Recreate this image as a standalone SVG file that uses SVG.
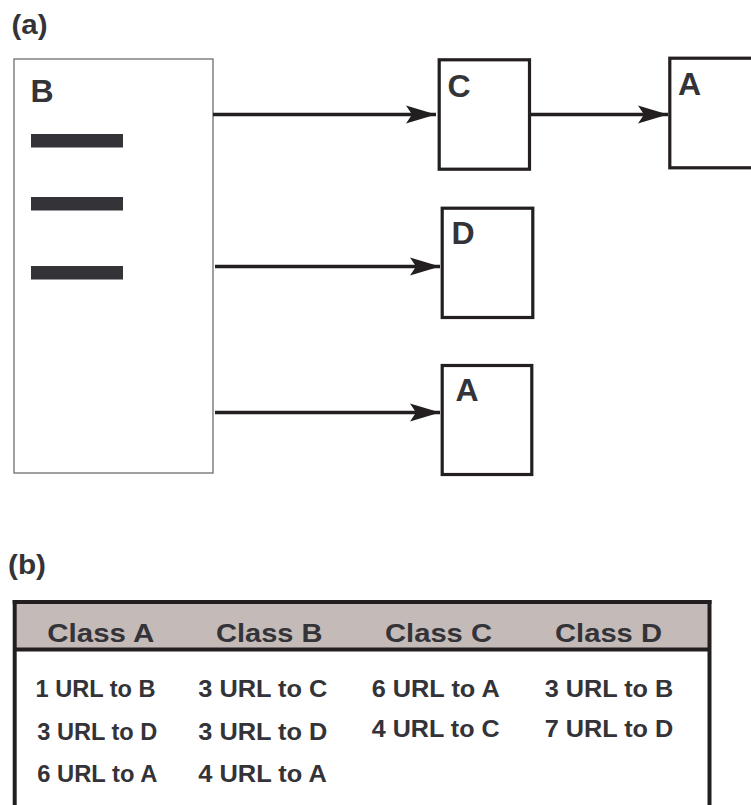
<svg xmlns="http://www.w3.org/2000/svg" width="751" height="805" viewBox="0 0 751 805">
  <style>
    .panel { font-family: "Liberation Sans", Arial, sans-serif; font-weight: bold; font-size: 27px; fill: #333338; }
    .lbl { font-family: "Liberation Sans", Arial, sans-serif; font-weight: bold; font-size: 32px; fill: #333338; }
    .head { font-family: "Liberation Sans", Arial, sans-serif; font-weight: bold; font-size: 26.5px; fill: #333338; }
    .cell { font-family: "Liberation Sans", Arial, sans-serif; font-weight: bold; font-size: 24.5px; fill: #333338; }
    .page { fill: #ffffff; stroke: #6e6e6e; stroke-width: 1.3; }
    .box { fill: #ffffff; stroke: #231f20; stroke-width: 3.2; }
    .bar { fill: #333338; }
    .link { stroke: #231f20; stroke-width: 3.5; fill: none; marker-end: url(#head); }
    .frame { stroke: #231f20; stroke-width: 4; fill: none; }
  </style>
  <defs>
    <marker id="head" markerUnits="userSpaceOnUse" markerWidth="34" markerHeight="22" viewBox="-32 -11 34 22" refX="0" refY="0" orient="auto">
      <path d="M0,0 L-30,-9 L-24,0 L-30,9 Z" fill="#231f20"/>
    </marker>
  </defs>

  <rect width="751" height="805" fill="#ffffff"/>

  <!-- panel (a) -->
  <text class="panel" x="11.5" y="34" textLength="36" lengthAdjust="spacingAndGlyphs">(a)</text>

  <g id="page-B">
    <rect class="page" x="14" y="59" width="199" height="414"/>
    <text class="lbl" x="30.5" y="102">B</text>
    <rect class="bar" x="31" y="134" width="92" height="13.5"/>
    <rect class="bar" x="31" y="197" width="92" height="13.5"/>
    <rect class="bar" x="31" y="266" width="92" height="13.5"/>
  </g>

  <g id="page-C">
    <rect class="box" x="439.2" y="59.8" width="90.3" height="109.4"/>
    <text class="lbl" x="447.5" y="97">C</text>
  </g>

  <g id="page-A-top">
    <rect class="box" x="669.8" y="58.2" width="100" height="109.6"/>
    <text class="lbl" x="678" y="95">A</text>
  </g>

  <g id="page-D">
    <rect class="box" x="442.2" y="208.2" width="90.6" height="109.3"/>
    <text class="lbl" x="451.5" y="243.5">D</text>
  </g>

  <g id="page-A-low">
    <rect class="box" x="442.2" y="365.5" width="89.6" height="109"/>
    <text class="lbl" x="455.5" y="400.5">A</text>
  </g>

  <g id="connectors">
    <line class="link" x1="213" y1="114.5" x2="436" y2="114.5"/>
    <line class="link" x1="531" y1="114.5" x2="668" y2="114.5"/>
    <line class="link" x1="215" y1="266.5" x2="440" y2="266.5"/>
    <line class="link" x1="215" y1="412.5" x2="440" y2="412.5"/>
  </g>

  <!-- panel (b) -->
  <text class="panel" x="8" y="574" textLength="38" lengthAdjust="spacingAndGlyphs">(b)</text>

  <g id="table">
    <rect x="14.7" y="602" width="694.8" height="47.5" fill="#c4bab8"/>
    <line class="frame" x1="12.7" y1="602" x2="711.5" y2="602"/>
    <line class="frame" x1="14.7" y1="649.5" x2="709.5" y2="649.5"/>
    <line class="frame" x1="14.7" y1="600" x2="14.7" y2="810"/>
    <line class="frame" x1="709.5" y1="600" x2="709.5" y2="810"/>

    <text class="head" x="47.3" y="642" textLength="107" lengthAdjust="spacingAndGlyphs">Class A</text>
    <text class="head" x="216" y="642" textLength="106.5" lengthAdjust="spacingAndGlyphs">Class B</text>
    <text class="head" x="385" y="642" textLength="107" lengthAdjust="spacingAndGlyphs">Class C</text>
    <text class="head" x="555" y="642" textLength="107" lengthAdjust="spacingAndGlyphs">Class D</text>

    <text class="cell" x="35.5" y="697" textLength="120" lengthAdjust="spacingAndGlyphs">1 URL to B</text>
    <text class="cell" x="37.3" y="740" textLength="120" lengthAdjust="spacingAndGlyphs">3 URL to D</text>
    <text class="cell" x="37.3" y="782" textLength="120" lengthAdjust="spacingAndGlyphs">6 URL to A</text>

    <text class="cell" x="198.3" y="697" textLength="129" lengthAdjust="spacingAndGlyphs">3 URL to C</text>
    <text class="cell" x="198.3" y="740" textLength="129" lengthAdjust="spacingAndGlyphs">3 URL to D</text>
    <text class="cell" x="198.3" y="782" textLength="128.5" lengthAdjust="spacingAndGlyphs">4 URL to A</text>

    <text class="cell" x="371.7" y="697" textLength="128" lengthAdjust="spacingAndGlyphs">6 URL to A</text>
    <text class="cell" x="371.7" y="737" textLength="128" lengthAdjust="spacingAndGlyphs">4 URL to C</text>

    <text class="cell" x="544.7" y="697" textLength="128.5" lengthAdjust="spacingAndGlyphs">3 URL to B</text>
    <text class="cell" x="544.7" y="737" textLength="128.5" lengthAdjust="spacingAndGlyphs">7 URL to D</text>
  </g>
</svg>
